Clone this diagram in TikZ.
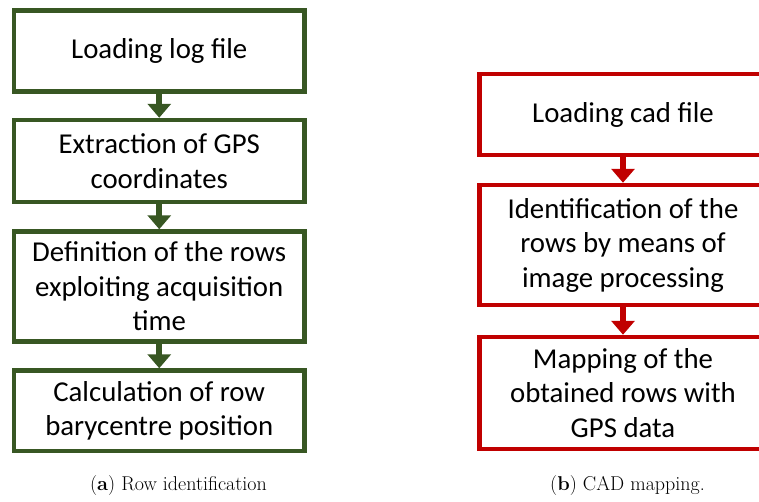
\documentclass[tikz,border=0pt]{standalone}
\usepackage{fontspec}
\usetikzlibrary{arrows.meta}
\newfontfamily\boxfont{Carlito}
\definecolor{flowgreen}{RGB}{56,87,35}
\definecolor{flowred}{RGB}{192,0,0}
\begin{document}
\begin{tikzpicture}[x=1pt,y=-1pt,
  stepbox/.style={draw, line width=4.5pt, fill=white, align=center, inner sep=0pt,
    font=\boxfont\fontsize{28.8}{34.5}\selectfont},
  greenbox/.style={stepbox, draw=flowgreen, minimum width=290.5pt},
  redbox/.style={stepbox, draw=flowred, minimum width=287pt},
  flowarrow/.style={line width=6pt, -{Triangle[width=23pt,length=14pt]}},
  captext/.style={font=\fontsize{20}{24}\selectfont, anchor=base, inner sep=0pt}]
\clip (0,0) rectangle (759,501);
\fill[white] (0,0) rectangle (759,501);

% row identification flow
\node[greenbox, minimum height=81pt]  (l1) at (159.25,51)    {Loading log file};
\node[greenbox, minimum height=82pt]  (l2) at (159.25,161)   {Extraction of GPS\\coordinates};
\node[greenbox, minimum height=110pt] (l3) at (159.25,286.5) {Definition of the rows\\exploiting acquisition\\time};
\node[greenbox, minimum height=80.5pt](l4) at (159.25,410.75){Calculation of row\\barycentre position};
\draw[flowarrow, flowgreen] (l1.south) -- (l2.north);
\draw[flowarrow, flowgreen] (l2.south) -- (l3.north);
\draw[flowarrow, flowgreen] (l3.south) -- (l4.north);

% CAD mapping flow
\node[redbox, minimum height=81pt]  (r1) at (623,114.5) {Loading cad file};
\node[redbox, minimum height=120pt] (r2) at (623,245)   {Identification of the\\rows by means of\\image processing};
\node[redbox, minimum height=112pt] (r3) at (623,393)   {Mapping of the\\obtained rows with\\GPS data};
\draw[flowarrow, flowred] (r1.south) -- (r2.north);
\draw[flowarrow, flowred] (r2.south) -- (r3.north);

% captions
\node[captext] (capa) at (178.5,490) {(\textbf{a}) Row identification};
\node[captext] (capb) at (627.5,490) {(\textbf{b}) CAD mapping.};
\end{tikzpicture}
\end{document}
